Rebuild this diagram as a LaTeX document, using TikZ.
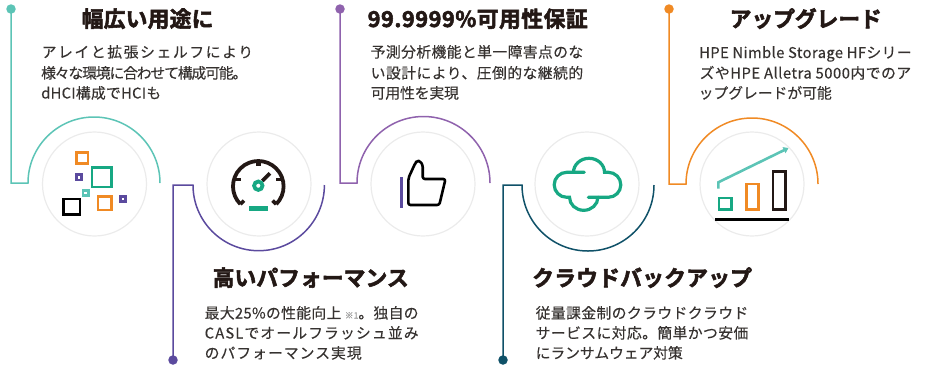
\documentclass[tikz,border=0pt]{standalone}
\usepackage{fontspec}
\usetikzlibrary{arrows.meta}
\setmainfont{Noto Sans CJK JP}[BoldFont={Noto Sans CJK JP Bold}]
\newfontfamily\ttlfam{Noto Sans CJK JP Bold}[FakeBold=2.4]
\newfontfamily\bodyfam{Noto Sans CJK JP}[FakeBold=0.3]
\definecolor{cteal}{HTML}{5CC4B6}
\definecolor{cviolet}{HTML}{5B4A9E}
\definecolor{clilac}{HTML}{8F62AD}
\definecolor{cdeep}{HTML}{0F5168}
\definecolor{corange}{HTML}{F08A24}
\definecolor{cgreen}{HTML}{17A883}
\definecolor{ctext}{HTML}{363230}
\definecolor{ctitle}{HTML}{231815}
\definecolor{cring}{HTML}{EBEBEB}
\newsavebox\fitbox
\newcommand\fitline[7]{% font, name, x, baseline y, width, chars, text
  \node[anchor=base west,inner sep=0pt] (#2) at (#3,#4) {#1\sbox\fitbox{#7}%
    \pgfmathparse{round(((#5)-\the\wd\fitbox)/((#6)*\the\fontdimen6\font)*10000)/100}%
    \edef\lsval{\pgfmathresult}%
    \edef\tmpcmd{\noexpand\addfontfeature{LetterSpace=\lsval}}\tmpcmd #7};}
\newcommand\ttl{\ttlfam\fontsize{21.8}{24}\selectfont\color{ctitle}}
\newcommand\bdy{\bodyfam\fontsize{14.8}{18}\selectfont\color{ctext}}
\tikzset{
  ring/.style={draw=cring,line width=1.2pt},
  conn/.style={line width=1.5pt},
  dot/.style={circle,fill=#1,inner sep=0pt,minimum size=9.5pt},
  ico/.style={line width=2.5pt,line join=miter},
}
\begin{document}
\begin{tikzpicture}[x=1pt,y=-1pt]
\useasboundingbox (0,0) rectangle (925,365);
% rings
\node[ring,circle,minimum size=104pt,inner sep=0pt] (r1) at (94.5,184) {};
\node[ring,circle,minimum size=104pt,inner sep=0pt] (r2) at (259,184) {};
\node[ring,circle,minimum size=104pt,inner sep=0pt] (r3) at (423,184) {};
\node[ring,circle,minimum size=104pt,inner sep=0pt] (r4) at (587,184) {};
\node[ring,circle,minimum size=104pt,inner sep=0pt] (r5) at (752,184) {};
% connectors
\node[dot=cteal] (d1) at (11,9) {};
\node[dot=cviolet] (d2) at (173,360) {};
\node[dot=clilac] (d3) at (340,9) {};
\node[dot=cdeep] (d4) at (503,360) {};
\node[dot=corange] (d5) at (669,9) {};
\coordinate (e1) at (28,183);
\coordinate (e2) at (193,185);
\coordinate (e3) at (357,183);
\coordinate (e4) at (522,185);
\coordinate (e5) at (686,184);
\draw[conn,cteal] (d1.center) |- (e1) arc[start angle=180,end angle=0,radius=66pt];
\draw[conn,cviolet] (d2.center) |- (e2) arc[start angle=180,end angle=360,radius=65.7pt];
\draw[conn,clilac] (d3.center) |- (e3) arc[start angle=180,end angle=0,radius=66.5pt];
\draw[conn,cdeep] (d4.center) |- (e4) arc[start angle=180,end angle=360,radius=66pt];
\draw[conn,corange] (d5.center) |- (e5) arc[start angle=180,end angle=0,radius=66pt];
% icon 1
\draw[ico,corange] (76.6,152.3) rectangle (88,163.4);
\draw[ico,cgreen] (92,167.3) rectangle (111.4,187);
\draw[ico,cviolet] (76.5,174.5) rectangle (81.5,179.8);
\draw[ico,cteal] (83.2,190.5) rectangle (88.5,195.5);
\draw[ico,black] (63.3,199) rectangle (80,214.7);
\draw[ico,corange] (98,196.6) rectangle (111.4,210);
\draw[ico,cviolet] (120.5,196.5) rectangle (125.5,201.5);
% icon 2 gauge
\draw[line width=3.8pt,ctitle] (240.4,204.2) arc[start angle=225,end angle=-45,radius=25.3pt];
\draw[line width=3.6pt,ctitle] (240.4,204.2) -- (244,200.6);
\draw[line width=3.6pt,ctitle] (276.2,204.2) -- (272.6,200.6);
\draw[line width=4.6pt,ctitle] (258.3,160.5) -- (258.3,166);
\draw[line width=3.2pt,ctitle] (234,179.3) -- (241,179.3);
\draw[line width=3.2pt,ctitle] (282.6,179.3) -- (275.7,179.3);
\draw[line width=3.8pt,ctitle] (262.3,181) -- (270,173.3);
\draw[line width=3.8pt,cgreen,fill=white] (258.3,185.7) circle[radius=4.2pt];
\fill[cgreen] (249,206) rectangle (268,211);
% icon 3 thumb
\fill[cviolet] (400,176.7) rectangle (403,207.7);
\draw[line width=2.6pt,black,rounded corners=2.2pt,line join=round]
  (408.3,205) -- (408.3,178.3) -- (415.3,163) -- (417,161) -- (420,161) -- (422.7,165) -- (422.7,179)
  -- (445.5,179) -- (439.3,205) -- cycle;
% icon 4 cloud
\draw[line width=3.2pt,cgreen,line cap=round] (584.3,172.3) -- (566.7,172.3)
  arc[start angle=90,end angle=270,radius=12.5pt] -- (569.5,197.3)
  arc[start angle=180,end angle=360,x radius=14.2pt,y radius=13pt];
\draw[line width=3.2pt,cgreen,line cap=round] (588.3,197.3) -- (608.3,197.3)
  arc[start angle=-90,end angle=90,radius=12.5pt] -- (604.5,172.3)
  arc[start angle=0,end angle=180,x radius=15.5pt,y radius=14pt];
% icon 5 chart
\draw[ico,cgreen] (719,198) rectangle (731.4,209.4);
\draw[ico,corange] (746.3,184) rectangle (758.7,209.4);
\draw[ico,ctitle] (773,171.3) rectangle (785.4,209.4);
\draw[line width=3.6pt,black] (715,219.3) -- (789,219.3);
\draw[line width=2.6pt,cteal,-{Triangle[length=5pt,width=6.5pt]}] (718.3,188.5) -- (718.3,182.3) -- (788.5,148);
% titles
\fitline{\ttl}{t1}{81.5}{27}{132}{6}{幅広い用途に}
\fitline{\ttl}{t2}{212.5}{286}{196}{9}{高いパフォーマンス}
\fitline{\ttl}{t3}{367.5}{27}{220}{12}{99.9999\%可用性保証}
\fitline{\ttl}{t4}{532}{286}{220}{10}{クラウドバックアップ}
\fitline{\ttl}{t5}{729.5}{27}{152}{7}{アップグレード}
% bodies
\fitline{\bdy}{a1}{41.5}{57.5}{213}{13}{アレイと拡張シェルフにより}
\fitline{\bdy}{a2}{41}{78.5}{205}{15}{様々な環境に合わせて構成可能。}
\fitline{\bdy}{a3}{41}{98.5}{120}{10}{dHCI構成でHCIも}
\fitline{\bdy}{b1}{204.5}{318.5}{215}{17}{最大25\%の性能向上 {\fontsize{8.5}{9}\selectfont\color{gray!80}※1}。独自の}
\fitline{\bdy}{b2}{204.5}{338.5}{215}{15}{CASLでオールフラッシュ並み}
\fitline{\bdy}{b3}{204.5}{358.5}{158}{10}{のパフォーマンス実現}
\fitline{\bdy}{c1}{370.5}{57.5}{213}{14}{予測分析機能と単一障害点のな}
\fitline{\bdy}{c2}{370.5}{78.5}{213}{14}{い設計により、圧倒的な継続的}
\fitline{\bdy}{c3}{370.5}{98.5}{88}{6}{可用性を実現}
\fitline{\bdy}{f1}{535.5}{318.5}{213}{14}{従量課金制のクラウドクラウド}
\fitline{\bdy}{f2}{535.5}{338.5}{213}{14}{サービスに対応。簡単かつ安価}
\fitline{\bdy}{f3}{535.5}{358.5}{147}{10}{にランサムウェア対策}
\fitline{\bdy}{g1}{699}{58}{213.5}{23}{HPE Nimble Storage HFシリー}
\fitline{\bdy}{g2}{699.5}{78.5}{213}{22}{ズやHPE Alletra 5000内でのア}
\fitline{\bdy}{g3}{698.5}{98.5}{133}{9}{ップグレードが可能}
\end{tikzpicture}
\end{document}
